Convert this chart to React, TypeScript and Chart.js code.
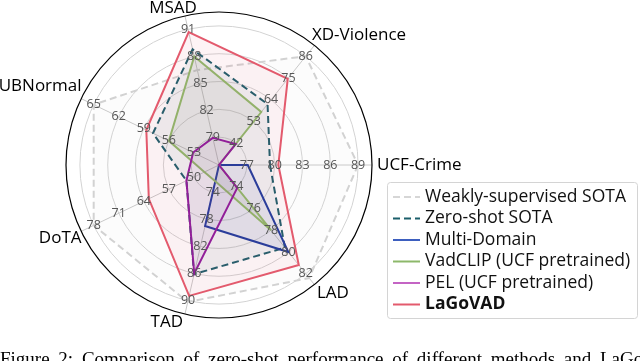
import React, { useEffect, useRef } from "react";
import { Chart, registerables } from "chart.js";

Chart.register(...registerables);

// Axis order (clockwise starting at the right / east)
const axisNames = ["UCF-Crime", "LAD", "TAD", "DoTA", "UBNormal", "MSAD", "XD-Violence"];

// Tick labels on each axis (rings 1..5)
const ucfTicks = [77, 80, 83, 86, 89];
const ladTicks = [74, 76, 78, 80, 82];
const tadTicks = [74, 78, 82, 86, 90];
const dotaTicks = [50, 57, 64, 71, 78];
const ubnTicks = [53, 56, 59, 62, 65];
const msadTicks = [79, 82, 85, 88, 91];
const xdTicks = [42, 53, 64, 75, 86];
const axisTicks = [ucfTicks, ladTicks, tadTicks, dotaTicks, ubnTicks, msadTicks, xdTicks];

// Series values, same order as axisNames
const seriesNames = [
  "Weakly-supervised SOTA",
  "Zero-shot SOTA",
  "Multi-Domain",
  "VadCLIP (UCF pretrained)",
  "PEL (UCF pretrained)",
  "LaGoVAD",
];
const weaklySota = [89.0, 82.4, 90.2, 78.0, 65.0, 86.5, 86.0];
const zeroShotSota = [79.5, 79.6, 86.1, 52.1, 57.9, 88.8, 61.8];
const multiDomain = [77.1, 80.0, 79.0, 43.0, 50.0, 76.0, 31.0];
const vadClip = [74.0, 78.0, 72.4, 47.1, 56.0, 88.0, 57.8];
const pel = [74.0, 74.1, 86.0, 52.1, 53.1, 79.0, 41.6];
const laGoVad = [80.4, 81.2, 89.3, 62.6, 58.7, 90.7, 74.6];

const seriesValues = [weaklySota, zeroShotSota, multiDomain, vadClip, pel, laGoVad];
const lineColors = ["#d2d2d2", "#1b5e6b", "#1e3c9e", "#8db86a", "#8c1a9c", "#e35a6d"];
const legendColors = ["#d6d6d6", "#1b5e6b", "#3d5fbf", "#8db86a", "#c464c4", "#e35a6d"];
const fillColors = [
  "rgba(200,200,200,0.06)",
  "rgba(27,94,107,0.07)",
  "rgba(30,60,158,0.07)",
  "rgba(120,140,110,0.10)",
  "rgba(140,26,156,0.06)",
  "rgba(227,90,109,0.07)",
];
const dashes = [[7, 4], [7, 4], [], [], [], []];

const RMAX = 5.5;
const FONT = "'Open Sans', 'Noto Sans', sans-serif";

function normalize(values: number[]) {
  return values.map((v, i) => {
    const t = axisTicks[i];
    const step = t[1] - t[0];
    const base = t[0] - step;
    return (v - base) / step;
  });
}

const labelPlacement = [
  { align: "left", dx: 1, dy: 0 },
  { align: "left", dx: 0, dy: 5 },
  { align: "right", dx: -1, dy: 4 },
  { align: "right", dx: 4, dy: 5 },
  { align: "right", dx: 4, dy: -11 },
  { align: "center", dx: -11, dy: -4 },
  { align: "left", dx: -5, dy: -7 },
];

const radarDecor = {
  id: "radarDecor",
  beforeDatasetsDraw(chart: any) {
    const s = chart.scales.r;
    const ctx = chart.ctx;
    ctx.save();
    ctx.beginPath();
    ctx.arc(s.xCenter, s.yCenter, s.drawingArea, 0, Math.PI * 2);
    ctx.strokeStyle = "#000";
    ctx.lineWidth = 1.2;
    ctx.stroke();
    ctx.restore();
  },
  afterDatasetsDraw(chart: any) {
    const s = chart.scales.r;
    const ctx = chart.ctx;
    ctx.save();
    // tick labels per axis
    ctx.font = `12.5px ${FONT}`;
    ctx.fillStyle = "#575757";
    ctx.textAlign = "center";
    ctx.textBaseline = "middle";
    axisTicks.forEach((ticks, i) => {
      ticks.forEach((t, k) => {
        const p = s.getPointPositionForValue(i, k + 1);
        ctx.fillText(String(t), p.x, p.y);
      });
    });
    // axis names
    ctx.font = `17px ${FONT}`;
    ctx.fillStyle = "#000";
    axisNames.forEach((name, i) => {
      const p = s.getPointPosition(i, s.drawingArea + 4);
      const pl = labelPlacement[i];
      ctx.textAlign = pl.align;
      ctx.fillText(name, p.x + pl.dx, p.y + pl.dy);
    });
    // legend
    const bx = 387, by = 182, bw = 250, bh = 136;
    ctx.beginPath();
    if (ctx.roundRect) ctx.roundRect(bx + 0.5, by + 0.5, bw, bh, 3);
    else ctx.rect(bx + 0.5, by + 0.5, bw, bh);
    ctx.fillStyle = "rgba(255,255,255,0.85)";
    ctx.fill();
    ctx.strokeStyle = "#d4d4d4";
    ctx.lineWidth = 1;
    ctx.stroke();
    ctx.textAlign = "left";
    ctx.textBaseline = "middle";
    seriesNames.forEach((name, i) => {
      const y = 197 + i * 21.5;
      ctx.beginPath();
      ctx.setLineDash(dashes[i]);
      ctx.strokeStyle = legendColors[i];
      ctx.lineWidth = 2;
      ctx.moveTo(393, y);
      ctx.lineTo(420, y);
      ctx.stroke();
      ctx.setLineDash([]);
      ctx.font = (i === seriesNames.length - 1 ? "bold " : "") + `17.5px ${FONT}`;
      ctx.fillStyle = "#111";
      ctx.fillText(name, 425, y);
    });
    ctx.restore();
  },
};

export default function App() {
  const ref = useRef<HTMLCanvasElement | null>(null);
  useEffect(() => {
    if (!ref.current) return;
    const datasets = seriesValues.map((vals, i) => ({
      label: seriesNames[i],
      data: normalize(vals),
      borderColor: lineColors[i],
      backgroundColor: fillColors[i],
      borderWidth: 2,
      borderDash: dashes[i],
      fill: true,
      pointRadius: 0,
      pointHoverRadius: 0,
      tension: 0,
      order: seriesNames.length - i,
    }));
    const chart = new Chart(ref.current, {
      type: "radar",
      data: { labels: axisNames, datasets },
      options: {
        responsive: false,
        animation: false,
        devicePixelRatio: 1,
        layout: { padding: { left: 66, top: 12, right: 267, bottom: 42 } },
        plugins: { legend: { display: false }, tooltip: { enabled: false } },
        scales: {
          r: {
            min: 0,
            max: RMAX,
            startAngle: 90,
            afterBuildTicks: (scale: any) => {
              scale.ticks = [0, 1, 2, 3, 4, 5].map((v) => ({ value: v }));
            },
            ticks: { display: false, stepSize: 1 },
            pointLabels: { display: false },
            grid: { circular: true, color: "#d3d3d3", lineWidth: 1 },
            angleLines: { color: "#c8c8c8", lineWidth: 1 },
          },
        },
      },
      plugins: [radarDecor],
    } as any);
    return () => chart.destroy();
  }, []);
  return (
    <div style={{ position: "fixed", left: 0, top: 0, width: 640, height: 361, overflow: "hidden", background: "#fff" }}>
      <canvas ref={ref} width={640} height={361} style={{ position: "absolute", left: 0, top: 0, width: 640, height: 361 }} />
      <div
        style={{
          position: "absolute",
          left: 0,
          top: 348,
          whiteSpace: "nowrap",
          fontFamily: "'Liberation Serif', serif",
          fontSize: 19,
          wordSpacing: 4,
          color: "#000",
        }}
      >
        Figure 2: Comparison of zero-shot performance of different methods and LaGoVAD.
      </div>
    </div>
  );
}
